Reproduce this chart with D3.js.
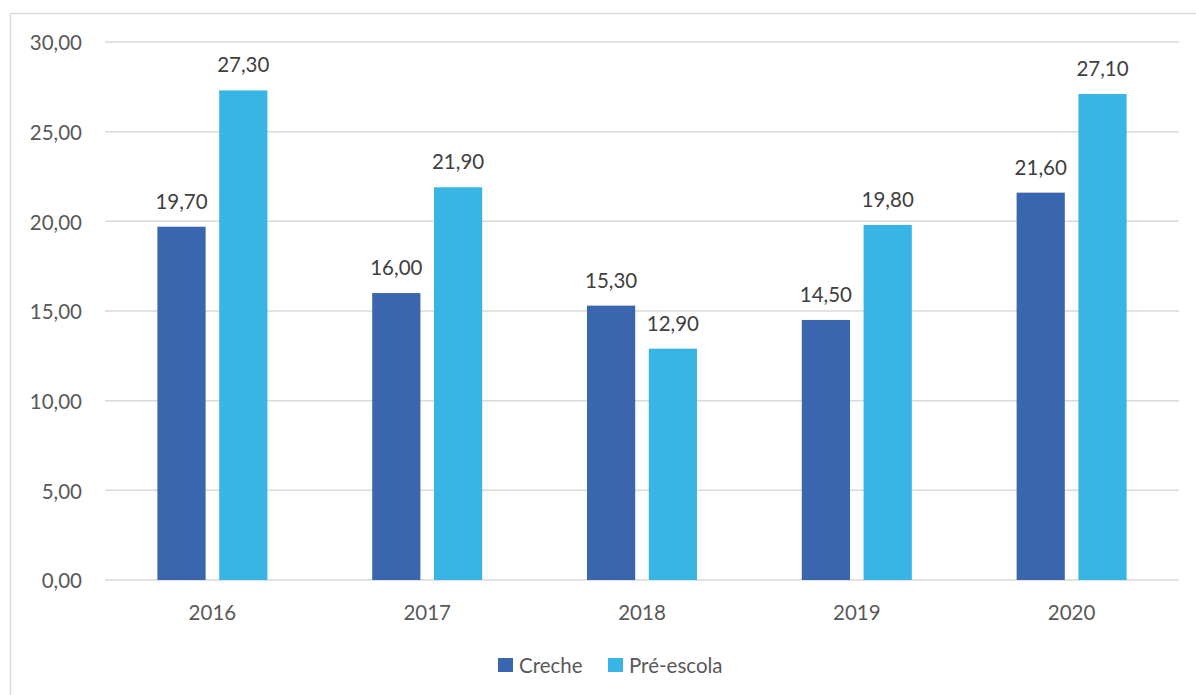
<!DOCTYPE html>
<html><head><meta charset="utf-8">
<script src="https://cdn.jsdelivr.net/npm/d3@7"></script>
<style>body{margin:0;background:#fff;}svg{display:block;font-family:Lato,"Open Sans",sans-serif;}</style>
</head><body>
<script>
const categories = ["2016","2017","2018","2019","2020"];
const seriesNames = ["Creche","Pré-escola"];
const creche = [19.7,16.0,15.3,14.5,21.6];
const preEscola = [27.3,21.9,12.9,19.8,27.1];
const yTicks = [0,5,10,15,20,25,30];
const colors = ["#3A66AF","#38B5E4"];

(function(){
const W=1196,H=695,FONT="Lato, 'Open Sans', sans-serif",FS=20.5;
const svg=d3.select("body").append("svg").attr("width",W).attr("height",H);
svg.append("rect").attr("x",10.5).attr("y",13.5).attr("width",1200).attr("height",700).attr("fill","#fff").attr("stroke","#d9d9d9").attr("stroke-width",1.5);

const pLeft=105,pRight=1179,pTop=42,pBottom=580;
const x=d3.scaleBand().domain(categories).range([pLeft,pRight]);
const xs=d3.scaleBand().domain(seriesNames).range([0,110]).paddingInner(0.22);
const y=d3.scaleLinear().domain([0,30]).range([pBottom,pTop]);
const fmt=v=>d3.format(".2f")(v).replace(".",",");

svg.append("g").selectAll("line").data(yTicks).join("line")
 .attr("x1",pLeft).attr("x2",pRight).attr("y1",d=>y(d)).attr("y2",d=>y(d))
 .attr("stroke","#d9d9d9").attr("stroke-width",1.5);

const yAxis=d3.axisLeft(y).tickValues(yTicks).tickFormat(fmt).tickSize(0).tickPadding(23);
const ga=svg.append("g").attr("transform",`translate(${pLeft},0)`).call(yAxis)
 .attr("font-family",FONT).attr("font-size",FS);
ga.select(".domain").remove();
ga.selectAll("text").attr("fill","#595959").attr("dy","0.38em");

const xAxis=d3.axisBottom(x).tickSize(0).tickPadding(25.5);
const gx=svg.append("g").attr("transform",`translate(0,${pBottom})`).call(xAxis)
 .attr("font-family",FONT).attr("font-size",FS);
gx.select(".domain").remove();
gx.selectAll("text").attr("fill","#595959");

const data=categories.map((c,i)=>({c,vals:[{s:seriesNames[0],v:creche[i]},{s:seriesNames[1],v:preEscola[i]}]}));
const g=svg.append("g").attr("font-family",FONT).selectAll("g").data(data).join("g")
 .attr("transform",d=>`translate(${x(d.c)+x.bandwidth()/2-55},0)`);
g.selectAll("rect").data(d=>d.vals).join("rect")
 .attr("x",d=>xs(d.s)).attr("width",xs.bandwidth())
 .attr("y",d=>y(d.v)).attr("height",d=>pBottom-y(d.v))
 .attr("fill",(d,i)=>colors[i]);
g.selectAll("text").data(d=>d.vals).join("text")
 .attr("x",d=>xs(d.s)+xs.bandwidth()/2).attr("y",d=>y(d.v)-18)
 .attr("text-anchor","middle").attr("font-size",FS).attr("fill","#404040").text(d=>fmt(d.v));

const leg=svg.append("g").attr("font-family",FONT);
const lx=[498,608];
seriesNames.forEach((s,i)=>{
 leg.append("rect").attr("x",lx[i]).attr("y",658).attr("width",15).attr("height",14).attr("fill",colors[i]);
 leg.append("text").attr("x",lx[i]+21).attr("y",673).attr("font-size",FS).attr("fill","#595959").text(s);
});
})();
</script>
</body></html>
